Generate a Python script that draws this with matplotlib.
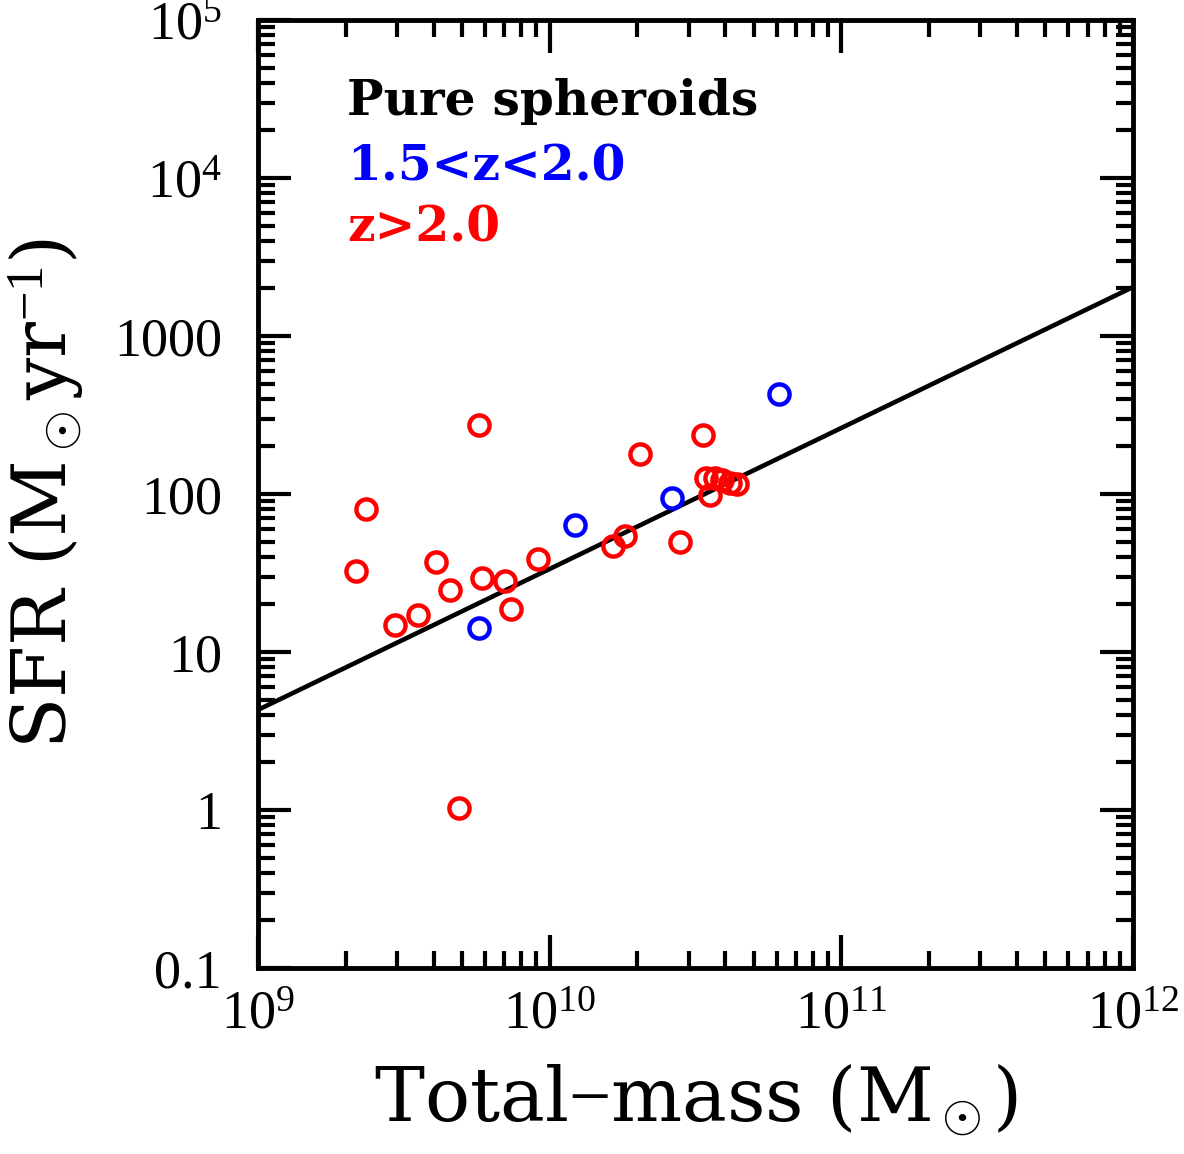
import matplotlib
matplotlib.use("Agg")
import matplotlib.pyplot as plt
import numpy as np
from matplotlib.ticker import LogLocator, FixedLocator, FixedFormatter, NullFormatter

plt.rcParams['font.family'] = ['Liberation Serif', 'DejaVu Serif']
plt.rcParams['mathtext.fontset'] = 'custom'
plt.rcParams['mathtext.rm'] = 'Liberation Serif'
plt.rcParams['mathtext.it'] = 'Liberation Serif'
plt.rcParams['mathtext.bf'] = 'Liberation Serif:bold'

# z > 2.0 sample (total mass in Msun, SFR in Msun/yr)
red_mass = [2.17e9, 2.34e9, 2.95e9, 3.54e9, 4.08e9, 4.55e9, 5.73e9, 5.86e9,
            7.03e9, 7.37e9, 9.12e9, 4.89e9, 1.65e10, 1.81e10, 2.04e10, 2.80e10,
            3.36e10, 3.44e10, 3.55e10, 3.69e10, 3.90e10, 4.15e10, 4.39e10]
red_sfr = [32.6, 80, 14.8, 17.1, 37.1, 24.7, 273, 29.4,
           28.1, 18.7, 38.8, 1.03, 46.9, 54.2, 179, 49.7,
           236, 126, 98.6, 126, 123, 117, 116]

# 1.5 < z < 2.0 sample
blue_mass = [5.73e9, 1.22e10, 2.62e10, 6.11e10]
blue_sfr = [14.2, 63.7, 94.3, 430]

# fitted relation end points
line_mass = [1e9, 1e12]
line_sfr = [4.3, 2040]

xticks = [1e9, 1e10, 1e11, 1e12]
xticklabels = ['$10^{9}$', '$10^{10}$', '$10^{11}$', '$10^{12}$']
yticks = [0.1, 1, 10, 100, 1000, 1e4, 1e5]
yticklabels = ['0.1', '1', '10', '100', '1000', '$10^{4}$', '$10^{5}$']

fig = plt.figure(figsize=(11.84, 11.54), dpi=100)
ax = fig.add_axes([0.2179, 0.1612, 0.739, 0.8215])

ax.plot(line_mass, line_sfr, color='black', lw=3.3, zorder=2)
ax.plot(red_mass, red_sfr, 'o', mfc='none', mec='red', ms=14.5, mew=3.2, zorder=3)
ax.plot(blue_mass, blue_sfr, 'o', mfc='none', mec='blue', ms=14.5, mew=3.2, zorder=3)

ax.set_xscale('log')
ax.set_yscale('log')
ax.set_xlim(1e9, 1e12)
ax.set_ylim(0.1, 1e5)

ax.xaxis.set_major_locator(FixedLocator(xticks))
ax.xaxis.set_major_formatter(FixedFormatter(xticklabels))
ax.yaxis.set_major_locator(FixedLocator(yticks))
ax.yaxis.set_major_formatter(FixedFormatter(yticklabels))
for a in (ax.xaxis, ax.yaxis):
    a.set_minor_locator(LogLocator(base=10, subs=np.arange(2, 10), numticks=20))
    a.set_minor_formatter(NullFormatter())

ax.tick_params(which='both', direction='in', top=True, right=True, width=3, labelsize=39)
ax.tick_params(which='major', length=24)
ax.tick_params(which='minor', length=12.5)
ax.tick_params(axis='x', which='major', pad=16)
ax.tick_params(axis='y', which='major', pad=26)
for s in ax.spines.values():
    s.set_linewidth(3.5)

serif = 'DejaVu Serif'
ax.set_xlabel(r'Total$-$mass (M$_\odot$)', fontsize=54, family=serif, va='center')
ax.set_ylabel(r'SFR (M$_\odot$yr$^{-1}$)', fontsize=54, family=serif, va='center')
ax.xaxis.set_label_coords(0.5, -0.139)
ax.yaxis.set_label_coords(-0.241, 0.5)

ax.text(0.102, 0.900, 'Pure spheroids', transform=ax.transAxes, fontsize=35,
        family=serif, fontweight='bold', color='black', va='baseline')
ax.text(0.102, 0.831, '1.5<z<2.0', transform=ax.transAxes, fontsize=35,
        family=serif, fontweight='bold', color='blue', va='baseline')
ax.text(0.102, 0.766, 'z>2.0', transform=ax.transAxes, fontsize=35,
        family=serif, fontweight='bold', color='red', va='baseline')

fig.savefig('out.png', dpi=100)
